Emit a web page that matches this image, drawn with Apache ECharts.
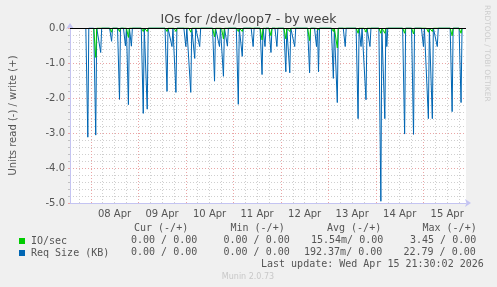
<!DOCTYPE html>
<html><head><meta charset="utf-8">
<script src="https://cdn.jsdelivr.net/npm/echarts@6/dist/echarts.min.js"></script>
<style>html,body{margin:0;padding:0;background:#f0f0f0}#c{width:497px;height:287px}</style>
</head><body><div id="c"></div>
<script>
// hours since Tue Apr 7 13:30 (window ends Apr 15 21:30 = 200 h)
const dayLabels = ['08 Apr','09 Apr','10 Apr','11 Apr','12 Apr','13 Apr','14 Apr','15 Apr'];
const reqHours  = [9,13,15.5,21,25,28,29.5,31,37,39,49,51.5,53.5,58.5,61,63,65.5,73,75.5,77.5,79.5,85,87,92.5,97,98.5,101.5,104.5,109,111,113.5,121,124.5,125.5,133,135,139,145.5,147,149.5,151.5,157,159,160,169,173.5,178.5,181,183,185.5,193,197.5];
const reqValues = [-3.12,-3.06,-0.70,-0.38,-2.04,-0.51,-2.19,-0.52,-2.44,-2.32,-1.81,-0.53,-1.84,-0.53,-1.84,-0.87,-0.53,-1.52,-0.53,-1.38,-0.52,-2.18,-0.81,-0.53,-1.33,-0.53,-0.70,-0.53,-1.25,-1.28,-0.53,-1.28,-0.53,-1.25,-1.44,-2.13,-0.53,-2.59,-0.53,-2.05,-0.53,-4.95,-2.59,-0.53,-3.03,-3.04,-0.53,-2.59,-2.59,-0.53,-2.39,-2.13];
const ioHours   = [13,21,25,29.5,37,39,49,53.5,61,73,77.5,85,87,97,101.5,109,111,121,125.5,133,135,145.5,149.5,157,159,169,173.5,181,183,193,197.5];
const ioValues  = [-0.84,-0.12,-0.10,-0.27,-0.10,-0.10,-0.10,-0.10,-0.12,-0.25,-0.31,-0.10,-0.10,-0.34,-0.22,-0.31,-0.10,-0.36,-0.06,-0.10,-0.57,-0.15,-0.12,-0.15,-0.15,-0.15,-0.17,-0.12,-0.10,-0.22,-0.15];
const yTicks = ['0.0','-1.0','-2.0','-3.0','-4.0','-5.0'];
const statHeader = ['Cur (-/+)','Min (-/+)','Avg (-/+)','Max (-/+)'];
const ioStats  = ['0.00 / 0.00','0.00 / 0.00','15.54m/ 0.00','3.45 / 0.00'];
const reqStats = ['0.00 / 0.00','0.00 / 0.00','192.37m/ 0.00','22.79 / 0.00'];

function spikes(hours, values){
  const d = [];
  hours.forEach((h,i)=>{ d.push([h-1,0],[h,values[i]],[h+0.5,0]); });
  return d;
}
const RED = '#eaa5a5', GRAY = '#cfcfcf', TXT = '#555';
const MONO = 'DejaVu Sans Mono', SANS = 'DejaVu Sans';
// split line colours for ticks every 1.5 h starting 13:30 (16 ticks / day)
const splitColors = [];
for (let i=0;i<16;i++){ splitColors.push(i===7?RED:((i===3||i===11||i===15)?GRAY:'rgba(0,0,0,0)')); }

const chart = echarts.init(document.getElementById('c'), null, {renderer:'canvas'});
const txt = (x,y,text,extra)=>({type:'text',x:x,y:y,silent:true,style:Object.assign({text:text,fill:TXT,font:'10px "'+MONO+'"',verticalAlign:'middle',align:'left'},extra||{})});
const graphics = [
  {type:'text',x:491,y:5,rotation:-Math.PI/2,silent:true,style:{text:'RRDTOOL / TOBI OETIKER',fill:'#cdcdcd',font:'7.5px "'+SANS+'"',align:'left',verticalAlign:'top'}},
  txt(261,264,'Last update: Wed Apr 15 21:30:02 2026'),
  {type:'text',x:248,y:277,silent:true,style:{text:'Munin 2.0.73',fill:'#c8c8c8',font:'8px "'+SANS+'"',align:'center',verticalAlign:'middle'}}
];
const hdrX = [134,230.5,327,422.5];
statHeader.forEach((t,i)=>graphics.push(txt(hdrX[i],228,t)));
const r1X = [131,223.5,311,410], r2X = [131,223.5,304,403.5];
ioStats.forEach((t,i)=>graphics.push(txt(r1X[i],240,t)));
reqStats.forEach((t,i)=>graphics.push(txt(r2X[i],252,t)));

chart.setOption({
  animation:false,
  backgroundColor:'#f0f0f0',
  title:{text:'IOs for /dev/loop7 - by week',left:'center',top:13,padding:0,
    textStyle:{fontFamily:SANS,fontSize:12.5,fontWeight:'normal',color:'#444'}},
  grid:{left:66,top:28,width:400,height:175,show:true,backgroundColor:'#ffffff',borderWidth:0,containLabel:false},
  legend:{orient:'vertical',left:14,top:230,itemWidth:6,itemHeight:6,itemGap:0,icon:'rect',
    data:['IO/sec','Req Size (KB)'],
    textStyle:{fontFamily:MONO,fontSize:10,color:TXT,lineHeight:12,padding:[0,0,0,1]},selectedMode:false},
  xAxis:{type:'value',min:0,max:200,interval:1.5,
    axisLine:{show:true,onZero:false,lineStyle:{color:'#c4c4f2',width:1},symbol:['none','arrow'],symbolSize:[6,6],symbolOffset:[0,5]},
    axisTick:{show:false},
    splitLine:{show:true,showMinLine:true,lineStyle:{color:splitColors,type:[1,2],width:1}},
    axisLabel:{margin:6,color:TXT,fontFamily:SANS,fontSize:10,showMinLabel:true,showMaxLabel:true,
      formatter:function(v){const k=(v-22.5)/24; return (Number.isInteger(Math.round(k*1000)/1000) && k>=0 && k<dayLabels.length)?dayLabels[Math.round(k)]:'';}}
  },
  yAxis:{type:'value',min:-5,max:0,interval:1,
    name:'Units read (-) / write (+)',nameLocation:'middle',nameGap:52,
    nameTextStyle:{fontFamily:SANS,fontSize:10,color:TXT},
    axisLine:{show:true,lineStyle:{color:'#c4c4f2',width:1},symbol:['none','arrow'],symbolSize:[6,6],symbolOffset:[0,5]},
    axisTick:{show:true,length:2,inside:false,lineStyle:{color:RED}},
    minorTick:{show:true,splitNumber:5,length:2,lineStyle:{color:'#c0c0c0'}},
    splitLine:{show:true,lineStyle:{color:RED,type:[1,2]}},
    minorSplitLine:{show:true,lineStyle:{color:GRAY,type:[1,2]}},
    axisLabel:{margin:5,color:TXT,fontFamily:SANS,fontSize:10,formatter:function(v){return yTicks[Math.round(-v)];}}
  },
  series:[
    {name:'Req Size (KB)',type:'line',data:spikes(reqHours,reqValues),showSymbol:false,symbol:'none',
      lineStyle:{color:'#0066b3',width:1},itemStyle:{color:'#0066b3'},z:3},
    {name:'IO/sec',type:'line',data:spikes(ioHours,ioValues),showSymbol:false,symbol:'none',
      lineStyle:{color:'#00cc00',width:1},itemStyle:{color:'#00cc00'},z:4,
      markLine:{silent:true,symbol:'none',label:{show:false},lineStyle:{color:'#000',width:1,type:'solid'},data:[{yAxis:0}],z:5}}
  ],
  graphic:graphics
});
</script></body></html>
